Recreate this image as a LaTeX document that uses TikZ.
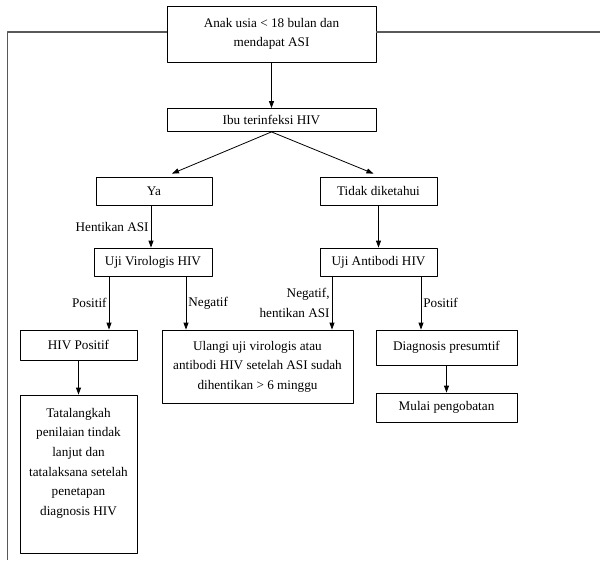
\documentclass[tikz,border=0pt]{standalone}
\usepackage{fontspec}
\setmainfont{Liberation Serif}
\usetikzlibrary{arrows.meta}
\tikzset{
	kotak/.style={draw, line width=0.8pt, inner sep=0pt, align=center},
	panah/.style={-{Triangle[length=7pt,width=5pt]}, line width=0.8pt},
	ket/.style={inner sep=2pt, align=right}
}
\begin{document}
	\begin{tikzpicture}[x=1pt, y=-1pt, font=\fontsize{13.2}{19.6}\selectfont, line join=round]
		\useasboundingbox (0,0) rectangle (600,560);
		\begin{scope}
			\node[kotak, minimum width=209pt, minimum height=56pt] (anak) at (271.5,34) {Anak usia < 18 bulan dan\\mendapat ASI};
			\node[kotak, minimum width=209pt, minimum height=23pt] (ibu) at (271.5,120) {Ibu terinfeksi HIV};
			\node[kotak, minimum width=116pt, minimum height=28pt] (ya) at (154,191) {Ya};
			\node[kotak, minimum width=117pt, minimum height=28pt] (tidak) at (378.5,191) {Tidak diketahui};
			\node[kotak, minimum width=118pt, minimum height=28pt] (virologis) at (153,262) {Uji Virologis HIV};
			\node[kotak, minimum width=117pt, minimum height=28pt] (antibodi) at (378.5,262) {Uji Antibodi HIV};
			\node[kotak, minimum width=117pt, minimum height=30pt] (hivpos) at (78.5,345) {HIV Positif};
			\node[kotak, minimum width=191pt, minimum height=73pt] (ulangi) at (257.5,366.5) {Ulangi uji virologis atau\\antibodi HIV setelah ASI sudah\\dihentikan > 6 minggu};
			\node[kotak, minimum width=141pt, minimum height=35pt] (presumtif) at (446.5,347.5) {Diagnosis presumtif};
			\node[kotak, minimum width=117pt, minimum height=158pt] (tata) at (78.5,474) {Tatalangkah\\penilaian tindak\\lanjut dan\\tatalaksana setelah\\penetapan\\diagnosis HIV\\[5pt]\mbox{}};
			\node[kotak, minimum width=141pt, minimum height=29pt] (mulai) at (446.5,407.5) {Mulai pengobatan};
		\end{scope}
		\draw[line width=1.1pt, black!65] ([yshift=2pt]anak.west) -| (7.5,560);
		\draw[line width=1.1pt, black!65] ([yshift=2pt]anak.east) -- (600,32);
		\draw[panah] (anak.south) -- (ibu.north);
		\draw[panah] (ibu.south) -- ([xshift=18pt, yshift=3pt]ya.north);
		\draw[panah] (ibu.south) -- ([xshift=-5pt, yshift=3pt]tidak.north);
		\draw[panah] ([xshift=-3pt]ya.south) -- node[ket, left] {Hentikan ASI} ([xshift=-2pt]virologis.north);
		\draw[panah] (tidak.south) -- (antibodi.north);
		\draw[panah] ([xshift=-44pt]virologis.south) -- node[ket, left] {Positif} ([xshift=30.5pt]hivpos.north);
		\draw[panah] ([xshift=33pt]virologis.south) -- node[ket, right] {Negatif} ([xshift=-71.5pt]ulangi.north);
		\draw[panah] ([xshift=-46.5pt]antibodi.south) -- node[ket, left] {Negatif,\\hentikan ASI} ([xshift=74.5pt]ulangi.north);
		\draw[panah] ([xshift=42.5pt]antibodi.south) -- node[ket, right] {Positif} ([xshift=-25.5pt]presumtif.north);
		\draw[panah] (hivpos.south) -- (tata.north);
		\draw[panah] (presumtif.south) -- (mulai.north);
	\end{tikzpicture}
\end{document}
